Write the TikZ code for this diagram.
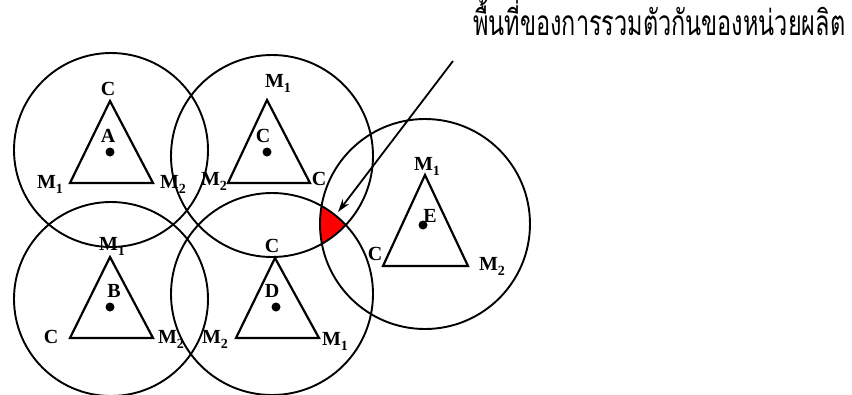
\documentclass[tikz,border=0pt]{standalone}
\usepackage{fontspec}
\setmainfont{Liberation Serif}
\newfontfamily\thaifont[Script=Thai]{Loma}
\usetikzlibrary{arrows.meta}
\newcommand\Msb[1]{M\raisebox{-5.5pt}{\fontsize{14}{14}\selectfont #1}}
\begin{document}
\begin{tikzpicture}[x=1pt,y=-1pt,
  ring/.style={line width=1.9pt},
  tri/.style={line width=2.2pt, line join=miter},
  lbl/.style={font=\bfseries\fontsize{20}{20}\selectfont, inner sep=0pt, anchor=base},
  ctr/.style={fill=black}]
\useasboundingbox (0,0) rectangle (852,394);
% red overlap region
\begin{scope}
  \clip (425,224) circle[radius=105];
  \clip (272,156) circle[radius=101];
  \fill[red] (272,294) circle[radius=101];
\end{scope}
% circles
\draw[ring] (111,150) circle[radius=97];
\draw[ring] (272,156) circle[radius=101];
\draw[ring] (111,299) circle[radius=97];
\draw[ring] (272,294) circle[radius=101];
\draw[ring] (425,224) circle[radius=105];
% triangles
\draw[tri] (110,101) -- (153,183) -- (70,183) -- cycle;
\draw[tri] (267,100) -- (310,183) -- (228,183) -- cycle;
\draw[tri] (110,257) -- (153,338) -- (70,338) -- cycle;
\draw[tri] (275,258) -- (319,338) -- (236,338) -- cycle;
\draw[tri] (425,175) -- (468,266) -- (383,266) -- cycle;
% dots
\fill[ctr] (110,152) circle[radius=4.5];
\fill[ctr] (267,152) circle[radius=4.5];
\fill[ctr] (110,307) circle[radius=4.5];
\fill[ctr] (276,307) circle[radius=4.5];
\fill[ctr] (423,225) circle[radius=4.5];
% labels A
\node[lbl] (a1) at (108,95) {C};
\node[lbl] (a2) at (108,142) {A};
\node[lbl] (a3) at (50,188) {\Msb{1}};
\node[lbl] (a4) at (173,188) {\Msb{2}};
% labels top middle
\node[lbl] (c1) at (278,87) {\Msb{1}};
\node[lbl] (c2) at (263,142) {C};
\node[lbl] (c3) at (214,185) {\Msb{2}};
\node[lbl] (c4) at (319,185) {C};
% labels B
\node[lbl] (b1) at (112,250) {\Msb{1}};
\node[lbl] (b2) at (114,297) {B};
\node[lbl] (b3) at (51,343) {C};
\node[lbl] (b4) at (171,343) {\Msb{2}};
% labels D
\node[lbl] (d1) at (272,252) {C};
\node[lbl] (d2) at (272,297) {D};
\node[lbl] (d3) at (215,343) {\Msb{2}};
\node[lbl] (d4) at (335,345) {\Msb{1}};
% labels E
\node[lbl] (e1) at (427,170) {\Msb{1}};
\node[lbl] (e2) at (430,222) {E};
\node[lbl] (e3) at (375,260) {C};
\node[lbl] (e4) at (492,270) {\Msb{2}};
% caption and arrow
\node[anchor=base west, inner sep=0pt] (cap) at (473,35)
  {\resizebox{372pt}{!}{\scalebox{1}[1.5]{\thaifont\fontsize{26}{26}\selectfont พื้นที่ของการรวมตัวกันของหน่วยผลิต}}};
\coordinate (arrS) at (453,61);
\coordinate (arrT) at (338,212);
\draw[line width=1.8pt, -{Stealth[length=13pt,width=8pt]}] (arrS) -- (arrT);
\end{tikzpicture}
\end{document}
